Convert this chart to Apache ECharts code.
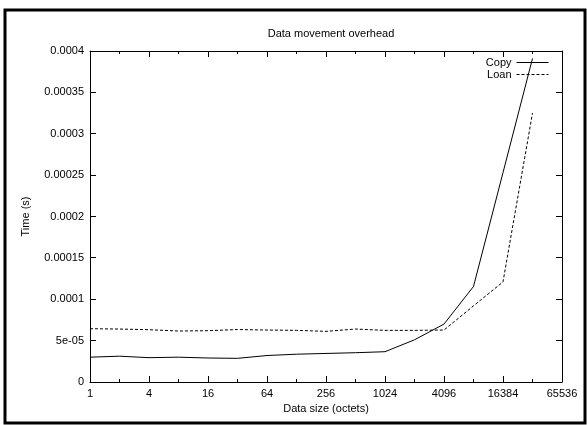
<!DOCTYPE html>
<html>
<head>
<meta charset="utf-8">
<script src="https://cdn.jsdelivr.net/npm/echarts@6/dist/echarts.min.js"></script>
<style>
html,body{margin:0;padding:0;background:#fff;}
#chart{width:587px;height:425px;}
</style>
</head>
<body>
<div id="chart"></div>
<script>
// Data
var titleText = 'Data movement overhead';
var xName = 'Data size (octets)';
var yName = 'Time (s)';
var seriesNames = ['Copy', 'Loan'];
var sizes = [1, 2, 4, 8, 16, 32, 64, 128, 256, 512, 1024, 2048, 4096, 8192, 16384, 32768];
var copyTimes = [3.0e-5, 3.12e-5, 2.94e-5, 3.0e-5, 2.9e-5, 2.86e-5, 3.2e-5, 3.36e-5, 3.45e-5, 3.54e-5, 3.66e-5, 5.1e-5, 7.0e-5, 1.155e-4, 2.53e-4, 3.91e-4];
var loanTimes = [6.44e-5, 6.4e-5, 6.32e-5, 6.16e-5, 6.2e-5, 6.34e-5, 6.28e-5, 6.24e-5, 6.12e-5, 6.4e-5, 6.24e-5, 6.24e-5, 6.28e-5, 9.2e-5, 1.21e-4, 3.25e-4];
var xTicks = [1, 4, 16, 64, 256, 1024, 4096, 16384, 65536];
var xMinorTicks = [2, 8, 32, 128, 512, 2048, 8192, 32768];
var yTicks = [0, 0.00005, 0.0001, 0.00015, 0.0002, 0.00025, 0.0003, 0.00035, 0.0004];
var xMin = 1, xMax = 65536;
var yMin = 0, yMax = 0.0004, yStep = 0.00005;

function pairs(xs, ys) { return xs.map(function (x, i) { return [x, ys[i]]; }); }
function yFmt(v) {
  v = Number(v.toPrecision(6));
  if (v === 0) return '0';
  if (v < 1e-4) {
    var s = v.toExponential();
    var m = s.split('e');
    var exp = parseInt(m[1], 10);
    var sign = exp < 0 ? '-' : '+';
    var a = Math.abs(exp);
    return m[0] + 'e' + sign + (a < 10 ? '0' + a : a);
  }
  return String(v);
}

var FONT = 'Liberation Sans, Arial, Helvetica, sans-serif';
var txt = { color: '#000', fontFamily: FONT, fontSize: 11 };
var black = { color: '#000', width: 1 };

function xMain(pos, labels) {
  return {
    type: 'log', logBase: 2, min: xMin, max: xMax, position: pos,
    axisLine: { show: true, onZero: false, lineStyle: black },
    axisTick: { show: false },
    axisLabel: labels ? Object.assign({ show: true, margin: 6, customValues: xTicks,
      formatter: function (v) { return String(Math.round(v)); } }, txt) : { show: false },
    splitLine: { show: false }, minorTick: { show: false },
    name: labels ? xName : '', nameLocation: 'middle', nameGap: 20,
    nameTextStyle: txt
  };
}
// tick-only top axis (known to render inward ticks)
function xTickAx(pos, ticks, len) {
  return {
    type: 'log', logBase: 2, min: xMin, max: xMax, position: pos, offset: -len,
    axisLine: { show: false, onZero: false },
    axisTick: { show: true, inside: false, length: len, customValues: ticks, lineStyle: black },
    axisLabel: { show: false }, splitLine: { show: false }, minorTick: { show: false }
  };
}
function yMain(pos, labels) {
  return {
    type: 'value', min: yMin, max: yMax, interval: yStep, position: pos,
    axisLine: { show: true, onZero: false, lineStyle: black },
    axisTick: { show: false },
    axisLabel: labels ? Object.assign({ show: true, margin: 6, formatter: yFmt }, txt) : { show: false },
    splitLine: { show: false },
    name: labels ? yName : '', nameLocation: 'middle', nameGap: 59, nameRotate: 90,
    nameTextStyle: txt
  };
}

function crisp(v) { return Math.round(v - 0.5) + 0.5; }

// inward tick marks on bottom / left / right, drawn through the axes' scales
function tickSeries(kind, values, len) {
  var data = values.map(function (v) { return kind === 'x' ? [v, yMin] : [xMin, v]; });
  return {
    type: 'custom', xAxisIndex: 0, yAxisIndex: 0,
    silent: true, z: 5,
    data: data,
    renderItem: function (params, api) {
      var children = [];
      if (kind === 'x') {
        var a = api.coord([api.value(0), yMin]);
        var x = crisp(a[0]);
        children.push({ type: 'line', shape: { x1: x, y1: a[1], x2: x, y2: a[1] - len },
          style: { stroke: '#000', lineWidth: 1 } });
      } else {
        var l = api.coord([xMin, api.value(1)]);
        var r = api.coord([xMax, api.value(1)]);
        var y = crisp(l[1]);
        children.push({ type: 'line', shape: { x1: l[0], y1: y, x2: l[0] + len, y2: y },
          style: { stroke: '#000', lineWidth: 1 } });
        children.push({ type: 'line', shape: { x1: r[0], y1: y, x2: r[0] - len, y2: y },
          style: { stroke: '#000', lineWidth: 1 } });
      }
      return { type: 'group', children: children };
    }
  };
}

var chart = echarts.init(document.getElementById('chart'), null, { renderer: 'canvas' });
chart.setOption({
  animation: false,
  backgroundColor: '#fff',
  title: {
    text: titleText, left: 326, top: 23, textAlign: 'center',
    textStyle: { color: '#000', fontFamily: FONT, fontSize: 11, fontWeight: 'normal' }
  },
  legend: {
    show: true,
    data: [seriesNames[0], seriesNames[1]],
    orient: 'vertical', left: 'auto', right: 33, top: 52, bottom: 'auto', align: 'right',
    itemWidth: 32, itemHeight: 10, itemGap: 1,
    itemStyle: { opacity: 0 },
    lineStyle: { width: 1 },
    textStyle: txt
  },
  grid: { left: 90, right: 25, top: 51, bottom: 43, show: false },
  xAxis: [
    xMain('bottom', true),
    xMain('top', false),
    xTickAx('top', xTicks, 6),
    xTickAx('top', xMinorTicks, 3)
  ],
  yAxis: [yMain('left', true), yMain('right', false)],
  graphic: [{
    type: 'rect', shape: { x: 5, y: 10, width: 580, height: 413 },
    style: { fill: 'none', stroke: '#000', lineWidth: 3 }, silent: true, z: 100
  }],
  series: [
    {
      name: seriesNames[0], type: 'line', data: pairs(sizes, copyTimes),
      xAxisIndex: 0, yAxisIndex: 0, symbol: 'none',
      lineStyle: { color: '#000', width: 1, type: 'solid' }, itemStyle: { color: '#000' }
    },
    {
      name: seriesNames[1], type: 'line', data: pairs(sizes, loanTimes),
      xAxisIndex: 0, yAxisIndex: 0, symbol: 'none',
      lineStyle: { color: '#000', width: 1, type: [3, 2] }, itemStyle: { color: '#000' }
    },
    tickSeries('x', xTicks, 6),
    tickSeries('x', xMinorTicks, 3),
    tickSeries('y', yTicks, 6)
  ]
});
</script>
</body>
</html>
